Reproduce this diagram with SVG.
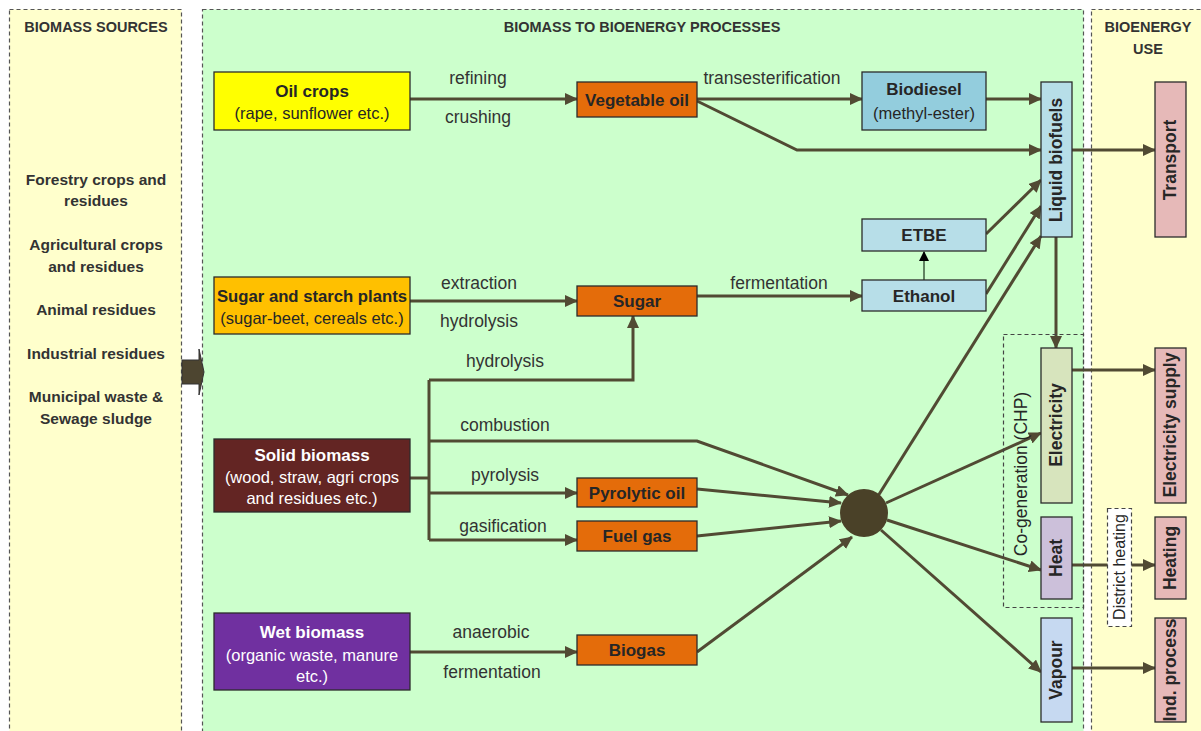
<svg xmlns="http://www.w3.org/2000/svg" width="1201" height="731" viewBox="0 0 1201 731">
<style>
text{font-family:"Liberation Sans",Arial,sans-serif;fill:#262626}
.h{font-size:14.5px;font-weight:bold;text-anchor:middle;fill:#333}
.src{font-size:15.5px;font-weight:bold;text-anchor:middle;fill:#333}
.b{font-size:17px;font-weight:bold;text-anchor:middle}
.v{font-size:17.5px;font-weight:bold;text-anchor:middle}
.n{font-size:16.5px;text-anchor:middle}
.lbl{font-size:17.5px;text-anchor:middle;fill:#333}
.w{fill:#fff}
.box{stroke:#2b2b2b;stroke-width:1.3}
.panel{stroke:#555;stroke-width:1.2;stroke-dasharray:4 3}
.c{fill:none;stroke:#514A33;stroke-width:3}
</style>
<defs>
<marker id="ar" markerUnits="userSpaceOnUse" markerWidth="14" markerHeight="12" refX="12" refY="6" orient="auto">
<path d="M0,0 L13,6 L0,12 z" fill="#514A33"/>
</marker>
<marker id="ars" markerUnits="userSpaceOnUse" markerWidth="10" markerHeight="10" refX="9" refY="5" orient="auto">
<path d="M0,0 L10,5 L0,10 z" fill="#000"/>
</marker>
</defs>
<rect width="1201" height="731" fill="#fff"/>
<g id="panels">
<rect class="panel" x="9.5" y="9.5" width="172" height="730" fill="#FFFFCC"/>
<rect class="panel" x="202.5" y="9.5" width="881" height="730" fill="#CCFFCC"/>
<rect class="panel" x="1091.5" y="9.5" width="120" height="730" fill="#FFFFCC"/>
<text class="h" x="96" y="32">BIOMASS SOURCES</text>
<text class="h" x="642" y="32">BIOMASS TO BIOENERGY PROCESSES</text>
<text class="h" x="1148" y="32">BIOENERGY</text>
<text class="h" x="1148" y="54">USE</text>
</g>
<g id="sources">
<text class="src" x="96" y="185">Forestry crops and</text>
<text class="src" x="96" y="206">residues</text>
<text class="src" x="96" y="250">Agricultural crops</text>
<text class="src" x="96" y="272">and residues</text>
<text class="src" x="96" y="315">Animal residues</text>
<text class="src" x="96" y="359">Industrial residues</text>
<text class="src" x="96" y="402">Municipal waste &amp;</text>
<text class="src" x="96" y="424">Sewage sludge</text>
</g>
<g id="block-arrow">
<path d="M182,360 H199 V349 L204,372 L199,395 V384 H182 z" fill="#4D4530" stroke="#333" stroke-width="1"/>
</g>
<g id="connectors">
<path class="c" d="M410,99 H577" marker-end="url(#ar)"/>
<path class="c" d="M697,99 H862" marker-end="url(#ar)"/>
<path class="c" d="M697,101 L797,150 H1041" marker-end="url(#ar)"/>
<path class="c" d="M986,99 H1041" marker-end="url(#ar)"/>
<path class="c" d="M1072,150 H1155" marker-end="url(#ar)"/>
<path class="c" d="M410,301 H577" marker-end="url(#ar)"/>
<path class="c" d="M697,296 H862" marker-end="url(#ar)"/>
<path d="M924,280 V252" stroke="#3d5a3d" stroke-width="1.5" fill="none" marker-end="url(#ars)"/>
<path class="c" d="M986,234 L1041,180" marker-end="url(#ar)"/>
<path class="c" d="M986,294 L1041,206" marker-end="url(#ar)"/>
<path class="c" d="M878,496 L1041,236" marker-end="url(#ar)"/>
<path class="c" d="M1056,237 V348" marker-end="url(#ar)"/>
<path class="c" d="M886,503 L1041,433" marker-end="url(#ar)"/>
<path class="c" d="M887,520 L1041,570" marker-end="url(#ar)"/>
<path class="c" d="M881,530 L1041,672" marker-end="url(#ar)"/>
<path class="c" d="M1072,370 H1155" marker-end="url(#ar)"/>
<path class="c" d="M1072,565 H1155" marker-end="url(#ar)"/>
<path class="c" d="M1072,668 H1155" marker-end="url(#ar)"/>
<path class="c" d="M410,478 H429"/>
<path class="c" d="M429,380 V540"/>
<path class="c" d="M429,380 H633 V316" marker-end="url(#ar)"/>
<path class="c" d="M429,441 H697 L848,495" marker-end="url(#ar)"/>
<path class="c" d="M429,493 H577" marker-end="url(#ar)"/>
<path class="c" d="M429,540 H577" marker-end="url(#ar)"/>
<path class="c" d="M697,489 L841,503" marker-end="url(#ar)"/>
<path class="c" d="M697,536 L841,521" marker-end="url(#ar)"/>
<path class="c" d="M697,652 L852,537" marker-end="url(#ar)"/>
<path class="c" d="M410,652 H577" marker-end="url(#ar)"/>
<text class="lbl" x="478" y="84">refining</text>
<text class="lbl" x="478" y="123">crushing</text>
<text class="lbl" x="772" y="84">transesterification</text>
<text class="lbl" x="479" y="289">extraction</text>
<text class="lbl" x="479" y="327">hydrolysis</text>
<text class="lbl" x="779" y="289">fermentation</text>
<text class="lbl" x="505" y="367">hydrolysis</text>
<text class="lbl" x="505" y="431">combustion</text>
<text class="lbl" x="505" y="481">pyrolysis</text>
<text class="lbl" x="503" y="532">gasification</text>
<text class="lbl" x="491" y="638">anaerobic</text>
<text class="lbl" x="492" y="678">fermentation</text>
</g>
<g id="oil-crops">
<rect class="box" x="214" y="72" width="196" height="58" fill="#FFFF00"/>
<text class="b" x="312" y="97">Oil crops</text>
<text class="n" x="312" y="119">(rape, sunflower etc.)</text>
</g>
<g id="sugar-plants">
<rect class="box" x="214" y="277" width="196" height="57" fill="#FFC000"/>
<text class="b" x="312" y="302" textLength="190" lengthAdjust="spacingAndGlyphs">Sugar and starch plants</text>
<text class="n" x="312" y="324">(sugar-beet, cereals etc.)</text>
</g>
<g id="solid-biomass">
<rect class="box" x="214" y="439" width="196" height="73" fill="#632523"/>
<text class="b w" x="312" y="461">Solid biomass</text>
<text class="n w" x="312" y="483">(wood, straw, agri crops</text>
<text class="n w" x="312" y="504">and residues etc.)</text>
</g>
<g id="wet-biomass">
<rect class="box" x="214" y="613" width="196" height="77" fill="#7030A0"/>
<text class="b w" x="312" y="638">Wet biomass</text>
<text class="n w" x="312" y="661">(organic waste, manure</text>
<text class="n w" x="312" y="682">etc.)</text>
</g>
<g id="vegetable-oil">
<rect class="box" x="577" y="82" width="120" height="35" fill="#E46C0A"/>
<text class="b" x="637" y="106">Vegetable oil</text>
</g>
<g id="sugar">
<rect class="box" x="577" y="286" width="120" height="30" fill="#E46C0A"/>
<text class="b" x="637" y="307">Sugar</text>
</g>
<g id="pyrolytic-oil">
<rect class="box" x="577" y="478" width="120" height="29" fill="#E46C0A"/>
<text class="b" x="637" y="499">Pyrolytic oil</text>
</g>
<g id="fuel-gas">
<rect class="box" x="577" y="521" width="120" height="30" fill="#E46C0A"/>
<text class="b" x="637" y="542">Fuel gas</text>
</g>
<g id="biogas">
<rect class="box" x="577" y="635" width="120" height="30" fill="#E46C0A"/>
<text class="b" x="637" y="656">Biogas</text>
</g>
<g id="biodiesel">
<rect class="box" x="862" y="72" width="124" height="58" fill="#93CDDD"/>
<text class="b" x="924" y="95">Biodiesel</text>
<text class="n" x="924" y="119">(methyl-ester)</text>
</g>
<g id="etbe">
<rect class="box" x="862" y="219" width="124" height="32" fill="#B7DEE8"/>
<text class="b" x="924" y="241">ETBE</text>
</g>
<g id="ethanol">
<rect class="box" x="862" y="280" width="124" height="31" fill="#B7DEE8"/>
<text class="b" x="924" y="302">Ethanol</text>
</g>
<g id="hub">
<circle cx="864" cy="513" r="24" fill="#4A4128"/>
</g>
<g id="chp">
<rect x="1003.5" y="334.5" width="80" height="273" fill="none" stroke="#444" stroke-width="1.2" stroke-dasharray="4 3"/>
<text class="n" style="font-size:17.5px" transform="translate(1021,474) rotate(-90)" x="0" y="6">Co-generation (CHP)</text>
</g>
<g id="liquid-biofuels">
<rect class="box" x="1041" y="82" width="31" height="155" fill="#B7DEE8"/>
<text class="v" transform="translate(1056,160) rotate(-90)" x="0" y="6">Liquid biofuels</text>
</g>
<g id="electricity">
<rect class="box" x="1041" y="348" width="31" height="155" fill="#D7E4BD"/>
<text class="v" transform="translate(1056,425) rotate(-90)" x="0" y="6">Electricity</text>
</g>
<g id="heat">
<rect class="box" x="1041" y="517" width="31" height="82" fill="#CCC0DA"/>
<text class="v" transform="translate(1056,558) rotate(-90)" x="0" y="6">Heat</text>
</g>
<g id="vapour">
<rect class="box" x="1041" y="618" width="31" height="104" fill="#C6D9F1"/>
<text class="v" transform="translate(1056,670) rotate(-90)" x="0" y="6">Vapour</text>
</g>
<g id="district-heating">
<rect x="1107.5" y="508.5" width="24" height="118" fill="#fff" stroke="#444" stroke-width="1.2" stroke-dasharray="4 3"/>
<text class="n" style="font-size:16px" transform="translate(1119,567) rotate(-90)" x="0" y="6">District heating</text>
</g>
<g id="transport">
<rect class="box" x="1155" y="82" width="31" height="155" fill="#E6B9B8"/>
<text class="v" transform="translate(1170,160) rotate(-90)" x="0" y="6">Transport</text>
</g>
<g id="electricity-supply">
<rect class="box" x="1155" y="348" width="31" height="155" fill="#E6B9B8"/>
<text class="v" transform="translate(1170,425) rotate(-90)" x="0" y="6">Electricity supply</text>
</g>
<g id="heating">
<rect class="box" x="1155" y="517" width="31" height="82" fill="#E6B9B8"/>
<text class="v" transform="translate(1170,558) rotate(-90)" x="0" y="6">Heating</text>
</g>
<g id="ind-process">
<rect class="box" x="1155" y="618" width="31" height="104" fill="#E6B9B8"/>
<text class="v" transform="translate(1170,670) rotate(-90)" x="0" y="6">Ind. process</text>
</g>
</svg>
